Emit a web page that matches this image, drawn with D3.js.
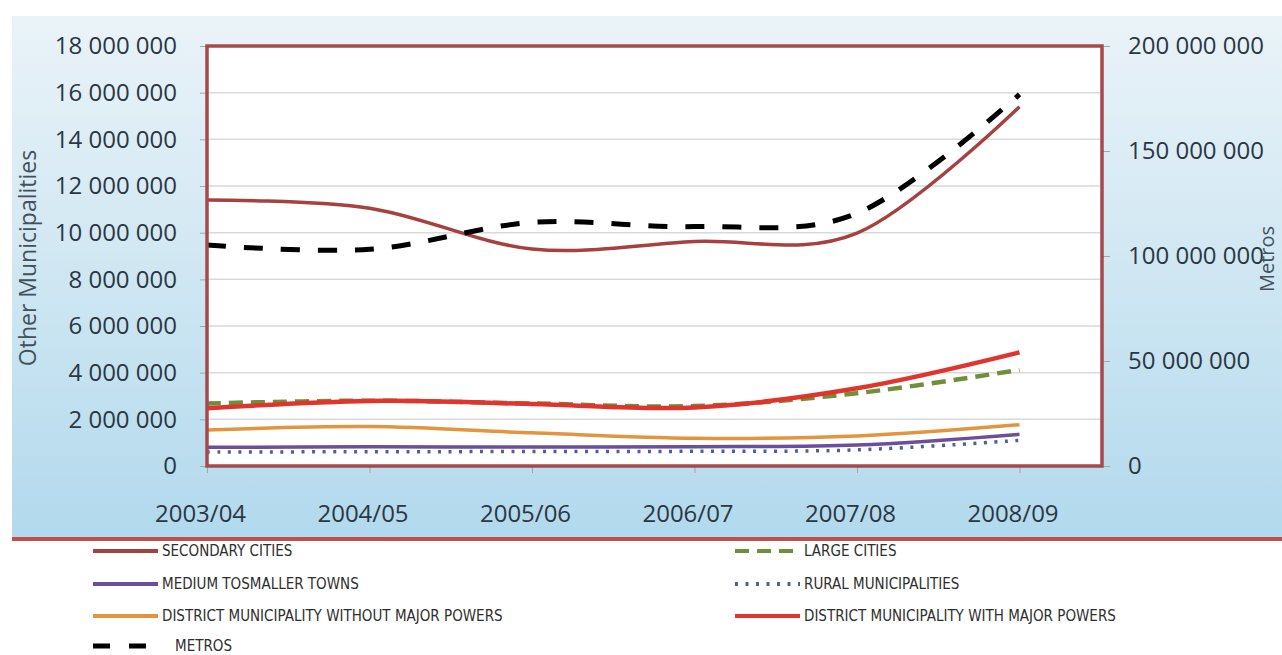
<!DOCTYPE html>
<html>
<head>
<meta charset="utf-8">
<script src="https://cdn.jsdelivr.net/npm/d3@7/dist/d3.min.js"></script>
<style>
  html, body { margin: 0; padding: 0; background: #ffffff; }
  svg { display: block; }
</style>
</head>
<body>
<svg id="chart" width="1282" height="655"></svg>
<script>
// ---- data ----
const years = ["2003/04", "2004/05", "2005/06", "2006/07", "2007/08", "2008/09"];
const secondaryCities     = [11400000, 11050000, 9300000, 9620000, 9980000, 15400000];
const largeCities         = [2680000, 2800000, 2680000, 2570000, 3120000, 4120000];
const mediumToSmallerTowns = [800000, 820000, 810000, 830000, 900000, 1360000];
const ruralMunicipalities = [600000, 610000, 620000, 630000, 690000, 1100000];
const districtWithout     = [1540000, 1690000, 1420000, 1190000, 1290000, 1770000];
const districtWith        = [2470000, 2790000, 2660000, 2510000, 3330000, 4870000];
const metros              = [105200000, 103200000, 116000000, 114000000, 120300000, 177000000];

const leftTicks  = [0, 2000000, 4000000, 6000000, 8000000, 10000000, 12000000, 14000000, 16000000, 18000000];
const rightTicks = [0, 50000000, 100000000, 150000000, 200000000];

const legendLabels = {
  secondary: "SECONDARY CITIES",
  large: "LARGE CITIES",
  medium: "MEDIUM TOSMALLER TOWNS",
  rural: "RURAL MUNICIPALITIES",
  without: "DISTRICT MUNICIPALITY WITHOUT MAJOR POWERS",
  with: "DISTRICT MUNICIPALITY WITH MAJOR POWERS",
  metros: "METROS"
};

// ---- layout ----
const svg = d3.select("#chart");
const plot = { left: 207, right: 1102, top: 46, bottom: 466 };
const fontTick = "'Open Sans', 'DejaVu Sans', sans-serif";
const tickColor = "#2b3742";

const x = d3.scalePoint().domain(years).range([plot.left, 1019.5]);
const yL = d3.scaleLinear().domain([0, 18000000]).range([plot.bottom, plot.top]);
const yR = d3.scaleLinear().domain([0, 200000000]).range([plot.bottom, plot.top]);

const fmt = d3.formatLocale({ decimal: ".", thousands: " ", grouping: [3], currency: ["", ""] }).format(",");

// background gradient
const defs = svg.append("defs");
const grad = defs.append("linearGradient").attr("id", "bg").attr("x1", 0).attr("y1", 0).attr("x2", 0).attr("y2", 1);
grad.append("stop").attr("offset", "0%").attr("stop-color", "#eaf3f8");
grad.append("stop").attr("offset", "45%").attr("stop-color", "#d2e8f3");
grad.append("stop").attr("offset", "100%").attr("stop-color", "#b2d9ed");

svg.append("rect").attr("x", 12).attr("y", 16).attr("width", 1270).attr("height", 521).attr("fill", "url(#bg)");

// plot area
svg.append("rect")
  .attr("x", plot.left).attr("y", plot.top)
  .attr("width", plot.right - plot.left).attr("height", plot.bottom - plot.top)
  .attr("fill", "#ffffff");

// gridlines
svg.append("g").selectAll("line")
  .data(leftTicks.slice(1, -1))
  .join("line")
  .attr("x1", plot.left).attr("x2", plot.right)
  .attr("y1", d => yL(d)).attr("y2", d => yL(d))
  .attr("stroke", "#d9d9d9").attr("stroke-width", 1.5);

// axes
function styleAxis(g) {
  g.select(".domain").remove();
  g.selectAll(".tick line").attr("stroke", "#a6a6a6").attr("stroke-width", 1);
  g.selectAll(".tick text")
    .attr("fill", tickColor)
    .style("font-family", fontTick)
    .style("font-size", "24px");
}

svg.append("g")
  .attr("transform", `translate(${plot.left},0)`)
  .call(d3.axisLeft(yL).tickValues(leftTicks).tickFormat(fmt).tickSize(7).tickPadding(23))
  .call(styleAxis);

svg.append("g")
  .attr("transform", `translate(${plot.right},0)`)
  .call(d3.axisRight(yR).tickValues(rightTicks).tickFormat(fmt).tickSize(8).tickPadding(18))
  .call(styleAxis);

svg.append("g")
  .attr("transform", `translate(0,${plot.bottom})`)
  .call(d3.axisBottom(x).tickSize(7).tickPadding(32))
  .call(styleAxis)
  .call(g => g.selectAll(".tick text").attr("dx", -7));

// axis titles
svg.append("text")
  .attr("transform", "translate(27,258) rotate(-90)")
  .attr("text-anchor", "middle").attr("dominant-baseline", "central")
  .attr("fill", "#44505a")
  .style("font-family", fontTick).style("font-size", "23px")
  .text("Other Municipalities");

svg.append("text")
  .attr("transform", "translate(1266,259) rotate(-90)")
  .attr("text-anchor", "middle").attr("dominant-baseline", "central")
  .attr("fill", "#44505a")
  .style("font-family", fontTick).style("font-size", "20px")
  .text("Metros");

// series
const series = [
  { key: "without",   values: districtWithout,      scale: yL, color: "#e3943f", width: 3.5, dash: null },
  { key: "rural",     values: ruralMunicipalities,  scale: yL, color: "#4b6685", width: 3.5, dash: "3,7.5" },
  { key: "medium",    values: mediumToSmallerTowns, scale: yL, color: "#6b4e9c", width: 3.5, dash: null },
  { key: "large",     values: largeCities,          scale: yL, color: "#6f8f3a", width: 4.5, dash: "14,8" },
  { key: "with",      values: districtWith,         scale: yL, color: "#e0352d", width: 4.5, dash: null },
  { key: "secondary", values: secondaryCities,      scale: yL, color: "#a5413f", width: 3.5, dash: null },
  { key: "metros",    values: metros,               scale: yR, color: "#000000", width: 5,   dash: "19,18" }
];

const gLines = svg.append("g");
series.forEach(s => {
  const line = d3.line()
    .x((d, i) => x(years[i]))
    .y(d => s.scale(d))
    .curve(d3.curveCatmullRom.alpha(0));
  gLines.append("path")
    .datum(s.values)
    .attr("d", line)
    .attr("fill", "none")
    .attr("stroke", s.color)
    .attr("stroke-width", s.width)
    .attr("stroke-dasharray", s.dash)
    .attr("stroke-linejoin", "round");
});

// frame
svg.append("rect")
  .attr("x", plot.left).attr("y", plot.top)
  .attr("width", plot.right - plot.left).attr("height", plot.bottom - plot.top)
  .attr("fill", "none").attr("stroke", "#a6494a").attr("stroke-width", 3.5);

// separator line
svg.append("line")
  .attr("x1", 12).attr("x2", 1282).attr("y1", 539).attr("y2", 539)
  .attr("stroke", "#bf4e4c").attr("stroke-width", 4);

// legend
const legendFont = "'Liberation Sans Narrow', 'Arial Narrow', 'DejaVu Sans Condensed', sans-serif";
const styleByKey = Object.fromEntries(series.map(s => [s.key, s]));
const legendItems = [
  { key: "secondary", col: 0, row: 0 },
  { key: "medium",    col: 0, row: 1 },
  { key: "without",   col: 0, row: 2 },
  { key: "metros",    col: 0, row: 3 },
  { key: "large",     col: 1, row: 0 },
  { key: "rural",     col: 1, row: 1 },
  { key: "with",      col: 1, row: 2 }
];
const colX = [93, 735];
const rowY = [551, 584, 616, 646];

const gLeg = svg.append("g");
legendItems.forEach(it => {
  const s = styleByKey[it.key];
  const x0 = colX[it.col];
  const yy = rowY[it.row];
  const isMetros = it.key === "metros";
  const x1 = isMetros ? x0 + 53 : x0 + 65;
  gLeg.append("line")
    .attr("x1", x0).attr("x2", x1).attr("y1", yy).attr("y2", yy)
    .attr("stroke", s.color)
    .attr("stroke-width", isMetros ? 5 : 4)
    .attr("stroke-dasharray", isMetros ? "17,19" : s.dash);
  gLeg.append("text")
    .attr("x", isMetros ? x0 + 82 : x1 + 4)
    .attr("y", yy)
    .attr("dominant-baseline", "central")
    .attr("fill", "#2e2e2e")
    .style("font-family", legendFont)
    .style("font-size", "15px")
    .text(legendLabels[it.key]);
});
</script>
</body>
</html>
